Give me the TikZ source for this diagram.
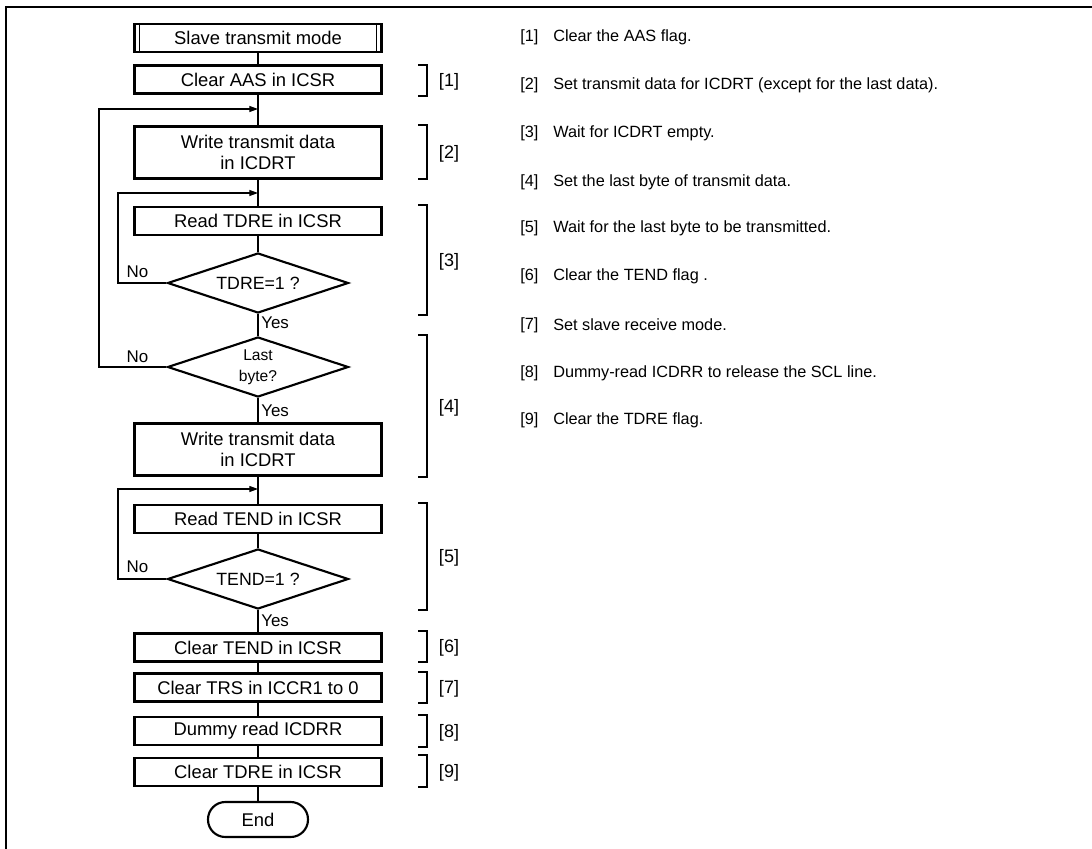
\documentclass[tikz,border=0pt]{standalone}
\usepackage{fontspec}
\setmainfont{Liberation Sans}
\usetikzlibrary{arrows.meta,shapes.geometric}
\begin{document}
\begin{tikzpicture}[x=0.75pt,y=-0.75pt,
  box/.style={draw,line width=1.8pt,minimum width=185.25pt,minimum height=21pt,inner sep=0pt,
    font=\fontsize{13.8}{15.75}\selectfont,align=center},
  tallbox/.style={box,minimum height=39pt},
  dec/.style={draw,diamond,aspect=3,line width=1.6pt,minimum width=135.75pt,minimum height=45pt,
    inner sep=0pt,font=\fontsize{13.3}{15}\selectfont,align=center},
  smalldec/.style={dec,font=\fontsize{11.7}{16}\selectfont},
  term/.style={draw,line width=1.6pt,rounded corners=13pt,minimum width=75pt,minimum height=26.25pt,
    inner sep=0pt,font=\fontsize{13.8}{15.75}\selectfont},
  flow/.style={line width=0.8pt},
  arr/.style={flow,-{Triangle[length=6.5pt,width=4.5pt]}},
  lab/.style={font=\fontsize{12.7}{14}\selectfont,inner sep=0pt},
  brk/.style={line width=0.9pt},
  brklab/.style={font=\fontsize{13.5}{15}\selectfont,inner sep=0pt},
  note/.style={font=\fontsize{12.2}{14}\selectfont,inner sep=0pt,anchor=west},
  frame/.style={line width=1.8pt}
]
\useasboundingbox (0,0) rectangle (1092,849);
\draw[frame] (6,849) -- (6,7) -- (1092,7);

% flowchart nodes
\node[box]      (start)  at (258,38)    {Slave transmit mode};
\draw[line width=0.6pt] ([xshift=4.5pt]start.north west) -- ([xshift=4.5pt]start.south west);
\draw[line width=0.6pt] ([xshift=-4.5pt]start.north east) -- ([xshift=-4.5pt]start.south east);
\node[box]      (aas)    at (258,79.5)  {Clear AAS in ICSR};
\node[tallbox]  (write1) at (258,152.5) {Write transmit data\\in ICDRT};
\node[box]      (rtdre)  at (258,221)   {Read TDRE in ICSR};
\node[dec]      (dtdre)  at (258,283)   {TDRE=1 ?};
\node[smalldec] (dlast)  at (258,367)   {Last\\byte?};
\node[tallbox]  (write2) at (258,449.5) {Write transmit data\\in ICDRT};
\node[box]      (rtend)  at (258,519)   {Read TEND in ICSR};
\node[dec]      (dtend)  at (258,579)   {TEND=1 ?};
\node[box]      (ctend)  at (258,647.5) {Clear TEND in ICSR};
\node[box]      (ctrs)   at (258,687.5) {Clear TRS in ICCR1 to 0};
\node[box]      (dummy)  at (258,731)   {Dummy read ICDRR};
\node[box]      (ctdre)  at (258,772)   {Clear TDRE in ICSR};
\node[term]     (end)    at (258,819.5) {End};

% junction points
\coordinate (j1) at (258,109);
\coordinate (j2) at (258,193);
\coordinate (j3) at (258,489);
\coordinate (c1) at (99,109);
\coordinate (c2) at (118,193);
\coordinate (c3) at (118,489);

% main flow
\draw[flow] (start) -- (aas);
\draw[flow] (aas) -- (write1);
\draw[flow] (write1) -- (rtdre);
\draw[flow] (rtdre) -- (dtdre);
\draw[flow] (dtdre) -- (dlast);
\draw[flow] (dlast) -- (write2);
\draw[flow] (write2) -- (rtend);
\draw[flow] (rtend) -- (dtend);
\draw[flow] (dtend) -- (ctend);
\draw[flow] (ctend) -- (ctrs);
\draw[flow] (ctrs) -- (dummy);
\draw[flow] (dummy) -- (ctdre);
\draw[flow] (ctdre) -- (end);

% loops
\draw[arr] (dtdre.west) -| (c2) -- (j2);
\draw[arr] (dlast.west) -| (c1) -- (j1);
\draw[arr] (dtend.west) -| (c3) -- (j3);

% labels
\node[lab] (no1)  at (137.5,272) {No};
\node[lab] (no2)  at (137.5,357) {No};
\node[lab] (no3)  at (137.5,567) {No};
\node[lab,anchor=west] (yes1) at (261,323) {Yes};
\node[lab,anchor=west] (yes2) at (261,411) {Yes};
\node[lab,anchor=west] (yes3) at (261,621) {Yes};

% step brackets
\foreach \t/\b/\n in {65/96/1,125/179/2,205/315/3,335/477/4,503/610/5,631/662/6,672/703/7,715/747/8,755/787/9}{
  \draw[brk] (418,\t) -- (427,\t) -- (427,\b) -- (418,\b);
  \node[brklab] (bl\n) at (449,{(\t+\b)/2+1.5}) {[\n]};
}

% notes
\foreach \y/\n/\txt in {37/1/{Clear the AAS flag.},
  85/2/{Set transmit data for ICDRT (except for the last data).},
  133/3/{Wait for ICDRT empty.},
  182/4/{Set the last byte of transmit data.},
  228/5/{Wait for the last byte to be transmitted.},
  276/6/{Clear the TEND flag .},
  325/7/{Set slave receive mode.},
  373/8/{Dummy-read ICDRR to release the SCL line.},
  420/9/{Clear the TDRE flag.}}{
  \node[note] (nn\n) at (520,\y) {[\n]};
  \node[note] (nt\n) at (553,\y) {\txt};
}
\end{tikzpicture}
\end{document}
